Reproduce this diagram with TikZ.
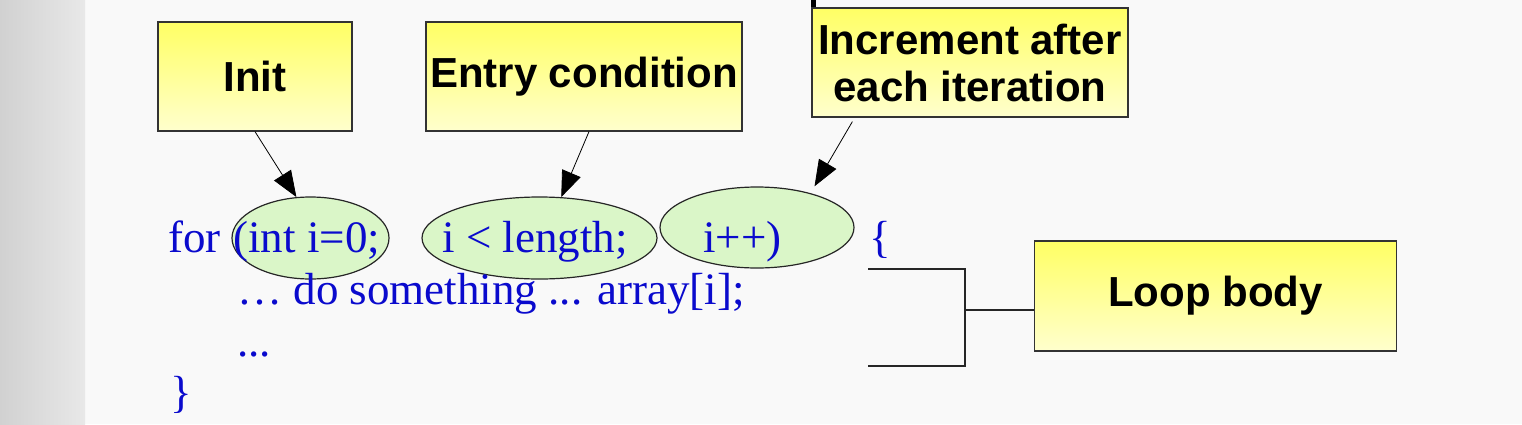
\documentclass[tikz,border=0pt]{standalone}
\usepackage{fontspec}
\setmainfont{Liberation Serif}
\setsansfont{Liberation Sans}
\usetikzlibrary{arrows.meta, shapes.geometric}

\definecolor{codeblue}{RGB}{10,10,205}
\definecolor{notetop}{RGB}{255,255,100}
\definecolor{notebot}{RGB}{255,255,205}
\definecolor{partfill}{RGB}{218,246,200}
\definecolor{pagebg}{RGB}{249,249,249}

\tikzset{
  notebox/.style={draw=black!80, line width=0.6pt, top color=notetop, bottom color=notebot,
    font=\sffamily\bfseries\fontsize{21pt}{23.5pt}\selectfont, align=center, inner sep=0pt},
  partell/.style={ellipse, draw=black!85, line width=0.6pt, fill=partfill, inner sep=0pt},
  codetext/.style={text=codeblue, font=\fontsize{22.5pt}{26pt}\selectfont, anchor=base west, inner sep=0pt},
}

\begin{document}
\begin{tikzpicture}[x=0.5pt, y=-0.5pt, >={Triangle[length=13pt, width=10pt]}]
  \useasboundingbox (0,0) rectangle (1522,424);
  % page background, grey strip at the left
  \fill[pagebg] (0,0) rectangle (1522,424);
  \shade[left color=black!18, right color=black!9] (0,0) rectangle (85,424);
  \fill[black] (811,0) rectangle (816,8);
  % the three parts of the loop header
  \node[partell, minimum width=78.5pt, minimum height=41pt]  (e1) at (310.5,238) {};
  \node[partell, minimum width=117.5pt, minimum height=41pt] (e2) at (539.5,238) {};
  \node[partell, minimum width=97pt, minimum height=40.5pt]  (e3) at (757,227.5) {};
  % the code itself
  \node[codetext] (kw)   at (168,252) {for};
  \node[codetext] (ini)  at (233,252) {(int i=0;};
  \node[codetext] (cnd)  at (442,252) {i < length;};
  \node[codetext] (inc)  at (703,252) {i++)};
  \node[codetext] (opn)  at (869,252) {\{};
  \node[codetext] (ln2)  at (237,304) {… do something ... array[i];};
  \node[codetext] (ln3)  at (237,356) {...};
  \node[codetext] (cls)  at (170,407) {\}};
  % callouts
  \node[notebox, minimum width=97pt, minimum height=54.5pt]  (init)  at (255,76.5)  {Init};
  \node[notebox, minimum width=158pt, minimum height=54.5pt] (entry) at (584,76.5)  {Entry condition};
  \node[notebox, minimum width=158pt, minimum height=54.5pt] (incr)  at (970,62.5)  {Increment after\\each iteration};
  \node[notebox, minimum width=181pt, minimum height=55pt]   (body)  at (1215.5,296) {Loop body};
  \draw[->] (init.south) -- (e1.109);
  \draw[->] ([xshift=2.5pt]entry.south) -- (e2.62);
  \draw[->] ([xshift=20.5pt, yshift=-2pt]incr.south west) -- ([yshift=4pt]e3.30);
  % bracket round the body
  \coordinate (bt) at (868,269);
  \coordinate (bm) at (965,310);
  \coordinate (bb) at (868,366);
  \draw[line width=0.6pt, black!85] (bt) -| (bm) |- (bb);
  \draw[line width=0.6pt, black!85] (bm) -- (bm -| body.west);
\end{tikzpicture}
\end{document}
